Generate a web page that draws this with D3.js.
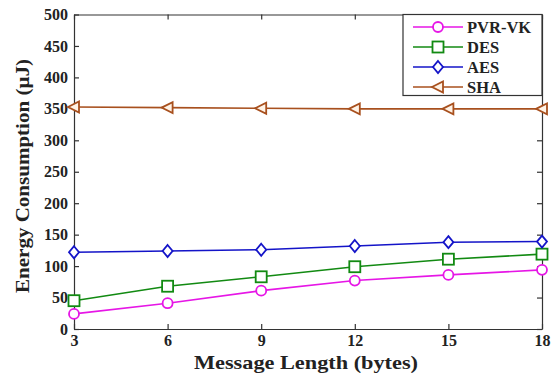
<!DOCTYPE html>
<html><head><meta charset="utf-8">
<script src="https://cdn.jsdelivr.net/npm/d3@7"></script>
<style>body{margin:0;background:#fff}svg{display:block}</style>
</head><body>
<script>
const messageLengths = [3, 6, 9, 12, 15, 18];
const seriesNames = ["PVR-VK", "DES", "AES", "SHA"];
const pvrvk = [24, 41, 61, 77, 86, 94];
const des = [45, 68, 83, 99, 111, 119];
const aes = [122, 124, 126, 132, 138, 139];
const sha = [353, 352, 351, 350, 350, 350];
const yTicks = [0, 50, 100, 150, 200, 250, 300, 350, 400, 450, 500];

const W = 551, H = 373;
const m = {left: 74, right: 542, top: 14.5, bottom: 329};
const svg = d3.select("body").append("svg").attr("width", W).attr("height", H);
const font = "'Liberation Serif','Times New Roman',serif";

const x = d3.scaleLinear().domain([3, 18]).range([m.left, m.right]);
const y = d3.scaleLinear().domain([0, 500]).range([m.bottom, m.top]);

const series = [
  {name: seriesNames[0], values: pvrvk, color: "#e616e6", marker: "circle"},
  {name: seriesNames[1], values: des, color: "#128a12", marker: "square"},
  {name: seriesNames[2], values: aes, color: "#1414c8", marker: "diamond"},
  {name: seriesNames[3], values: sha, color: "#a8501e", marker: "triangle"}
];

const axColor = "#333";
const xb = svg.append("g").attr("transform", `translate(0,${m.bottom})`)
  .call(d3.axisBottom(x).tickValues(messageLengths).tickSize(-5).tickPadding(6).tickSizeOuter(0));
const xt = svg.append("g").attr("transform", `translate(0,${m.top})`)
  .call(d3.axisTop(x).tickValues(messageLengths).tickSize(-5).tickFormat("").tickSizeOuter(0));
const yl = svg.append("g").attr("transform", `translate(${m.left},0)`)
  .call(d3.axisLeft(y).tickValues(yTicks).tickSize(-5).tickPadding(6).tickSizeOuter(0));
const yr = svg.append("g").attr("transform", `translate(${m.right},0)`)
  .call(d3.axisRight(y).tickValues(yTicks).tickSize(-5).tickFormat("").tickSizeOuter(0));
[xb, xt, yl, yr].forEach(g => {
  g.selectAll("path,line").attr("stroke", axColor).attr("stroke-width", 1.2);
  g.selectAll("text").attr("font-family", font).attr("font-weight", "bold")
    .attr("font-size", 16).attr("fill", "#222");
});

const line = d3.line().x((d, i) => x(messageLengths[i])).y(d => y(d));

function drawMarker(g, type, cx, cy, color) {
  if (type === "circle") {
    g.append("circle").attr("cx", cx).attr("cy", cy).attr("r", 5)
      .attr("fill", "#fff").attr("stroke", color).attr("stroke-width", 1.8);
  } else if (type === "square") {
    g.append("rect").attr("x", cx - 5.5).attr("y", cy - 5.5).attr("width", 11).attr("height", 11)
      .attr("fill", "#fff").attr("stroke", color).attr("stroke-width", 1.8);
  } else if (type === "diamond") {
    g.append("path").attr("d", `M${cx},${cy-6}L${cx+5},${cy}L${cx},${cy+6}L${cx-5},${cy}Z`)
      .attr("fill", "#fff").attr("stroke", color).attr("stroke-width", 1.8);
  } else {
    g.append("path").attr("d", `M${cx-6},${cy}L${cx+5},${cy-5.5}L${cx+5},${cy+5.5}Z`)
      .attr("fill", "#fff3e6").attr("stroke", color).attr("stroke-width", 1.8);
  }
}

series.forEach(s => {
  svg.append("path").datum(s.values).attr("d", line)
    .attr("fill", "none").attr("stroke", s.color).attr("stroke-width", 1.6);
  const g = svg.append("g");
  s.values.forEach((v, i) => drawMarker(g, s.marker, x(messageLengths[i]), y(v), s.color));
});

// legend
const lg = svg.append("g");
lg.append("rect").attr("x", 403).attr("y", m.top).attr("width", m.right - 403).attr("height", 81)
  .attr("fill", "#fff").attr("stroke", axColor).attr("stroke-width", 1.2);
series.forEach((s, i) => {
  const ly = 27 + i * 20;
  lg.append("line").attr("x1", 413).attr("x2", 463).attr("y1", ly).attr("y2", ly)
    .attr("stroke", s.color).attr("stroke-width", 1.6);
  drawMarker(lg, s.marker, 438, ly, s.color);
  lg.append("text").attr("x", 467).attr("y", ly + 5.5).text(s.name)
    .attr("font-family", font).attr("font-weight", "bold").attr("font-size", 16.5).attr("fill", "#222");
});

// titles
svg.append("text").attr("x", (m.left + m.right) / 2 - 2).attr("y", 369).attr("text-anchor", "middle")
  .attr("font-family", font).attr("font-weight", "bold").attr("font-size", 19).attr("fill", "#222")
  .attr("textLength", 224).attr("lengthAdjust", "spacingAndGlyphs")
  .text("Message Length (bytes)");
svg.append("text").attr("transform", `translate(29,176) rotate(-90)`)
  .attr("text-anchor", "middle")
  .attr("font-family", font).attr("font-weight", "bold").attr("font-size", 18).attr("fill", "#222")
  .attr("textLength", 234).attr("lengthAdjust", "spacingAndGlyphs")
  .text("Energy Consumption (µJ)");
</script>
</body></html>
